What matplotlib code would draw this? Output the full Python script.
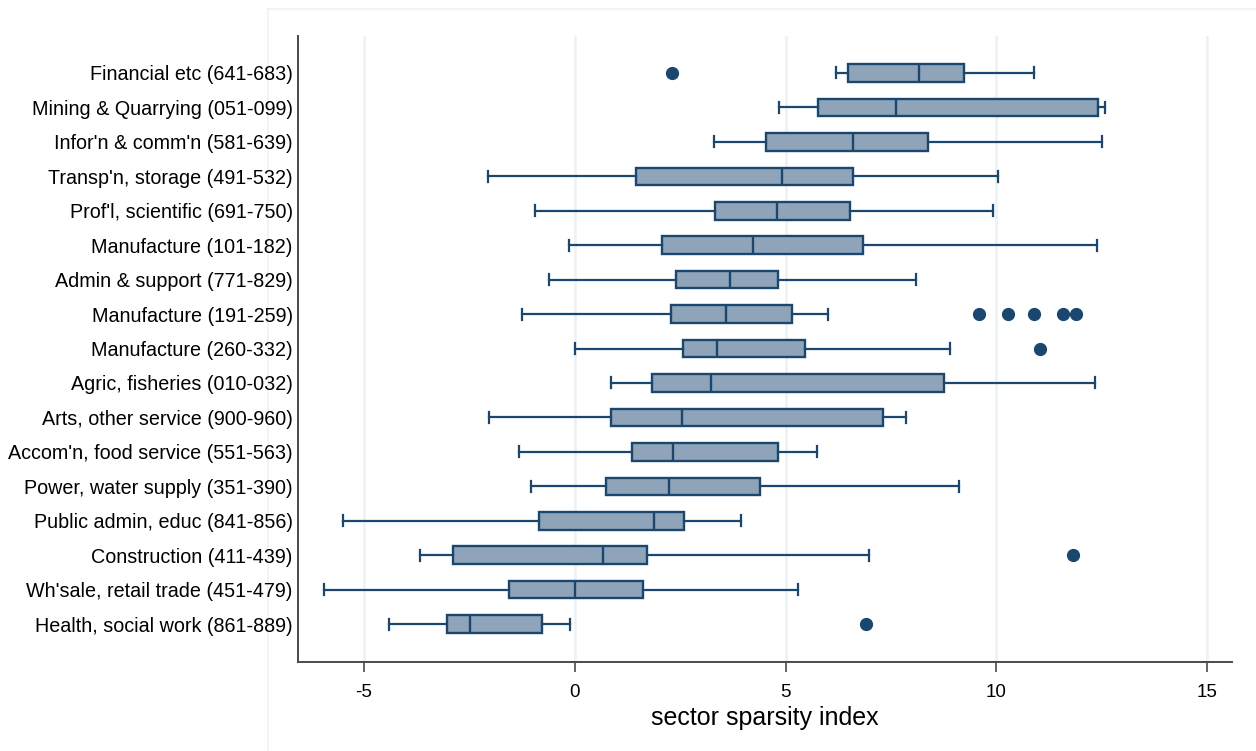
import matplotlib.pyplot as plt
from matplotlib.lines import Line2D

# ── Data ────────────────────────────────────────────────────────────────────
sectors = [
    "Financial etc (641-683)",
    "Mining & Quarrying (051-099)",
    "Infor'n & comm'n (581-639)",
    "Transp'n, storage (491-532)",
    "Prof'l, scientific (691-750)",
    "Manufacture (101-182)",
    "Admin & support (771-829)",
    "Manufacture (191-259)",
    "Manufacture (260-332)",
    "Agric, fisheries (010-032)",
    "Arts, other service (900-960)",
    "Accom'n, food service (551-563)",
    "Power, water supply (351-390)",
    "Public admin, educ (841-856)",
    "Construction (411-439)",
    "Wh'sale, retail trade (451-479)",
    "Health, social work (861-889)",
]
whis_lo = [6.20, 4.84, 3.31, -2.05, -0.94, -0.13, -0.60, -1.26, 0.01, 0.87,
           -2.03, -1.32, -1.03, -5.50, -3.67, -5.96, -4.40]
q1 = [6.48, 5.77, 4.54, 1.45, 3.33, 2.06, 2.39, 2.28, 2.57, 1.83,
      0.87, 1.35, 0.73, -0.86, -2.89, -1.57, -3.04]
median = [8.16, 7.61, 6.61, 4.91, 4.80, 4.24, 3.68, 3.59, 3.38, 3.23,
          2.54, 2.33, 2.24, 1.88, 0.66, 0.00, -2.48]
q3 = [9.24, 12.41, 8.37, 6.61, 6.52, 6.84, 4.82, 5.15, 5.47, 8.75,
      7.32, 4.83, 4.39, 2.59, 1.72, 1.63, -0.78]
whis_hi = [10.90, 12.59, 12.50, 10.03, 9.92, 12.40, 8.10, 6.01, 8.91, 12.35,
           7.86, 5.74, 9.11, 3.95, 6.99, 5.30, -0.12]
outliers = [[2.30], [], [], [], [], [], [], [9.59, 10.28, 10.89, 11.58, 11.89],
            [11.05], [], [], [], [], [], [11.81], [], [6.90]]

navy = "#1a476f"
fill = "#8fa4b8"
grid_col = "#eaf2f3"
spine_col = "#4a4a4a"

plt.rcParams["font.family"] = ["Liberation Sans", "DejaVu Sans"]
plt.rcParams["axes.unicode_minus"] = False

stats = []
for i in range(len(sectors)):
    stats.append({
        "med": median[i], "q1": q1[i], "q3": q3[i],
        "whislo": whis_lo[i], "whishi": whis_hi[i], "fliers": outliers[i],
    })

fig = plt.figure(figsize=(12.56, 7.51), dpi=100)
ax = fig.add_axes([0.2375, 0.1181, 0.9811 - 0.2375, 0.9521 - 0.1181])
ax.patch.set_alpha(0)

# faint outer graph-region frame (only top and left edges fall inside the image)
frame_kw = dict(transform=fig.transFigure, color="#edf2f4", lw=1.2, zorder=-5)
fig.add_artist(Line2D([268 / 1256, 1.0], [1 - 9 / 751, 1 - 9 / 751], **frame_kw))
fig.add_artist(Line2D([268 / 1256, 268 / 1256], [0.0, 1 - 9 / 751], **frame_kw))

positions = list(range(len(sectors)))
ax.bxp(
    stats,
    positions=positions,
    orientation="horizontal",
    widths=0.51,
    capwidths=0.32,
    patch_artist=True,
    boxprops={"facecolor": fill, "edgecolor": navy, "linewidth": 1.7},
    medianprops={"color": navy, "linewidth": 1.7},
    whiskerprops={"color": navy, "linewidth": 1.6},
    capprops={"color": navy, "linewidth": 1.6},
    flierprops={"marker": "o", "markerfacecolor": navy, "markeredgecolor": navy,
                "markersize": 8.5},
    zorder=3,
)

ax.set_xlim(-6.56, 15.60)
ax.set_ylim(len(sectors) - 1 + 1.11, -1.074)
ax.set_xticks([-5, 0, 5, 10, 15])
ax.set_yticks(positions)
ax.set_yticklabels(sectors)
ax.tick_params(axis="y", length=0, pad=4, labelsize=14.2)
ax.tick_params(axis="x", length=7.5, width=1.2, color=spine_col, pad=8,
               labelsize=13.5)
ax.set_xlabel("sector sparsity index", fontsize=18, labelpad=4)

ax.grid(axis="x", color=grid_col, lw=1.8, zorder=0)
ax.set_axisbelow(True)
for side in ["top", "right"]:
    ax.spines[side].set_visible(False)
for side in ["left", "bottom"]:
    ax.spines[side].set_color(spine_col)
    ax.spines[side].set_linewidth(1.4)

fig.savefig("out.png", dpi=100)
